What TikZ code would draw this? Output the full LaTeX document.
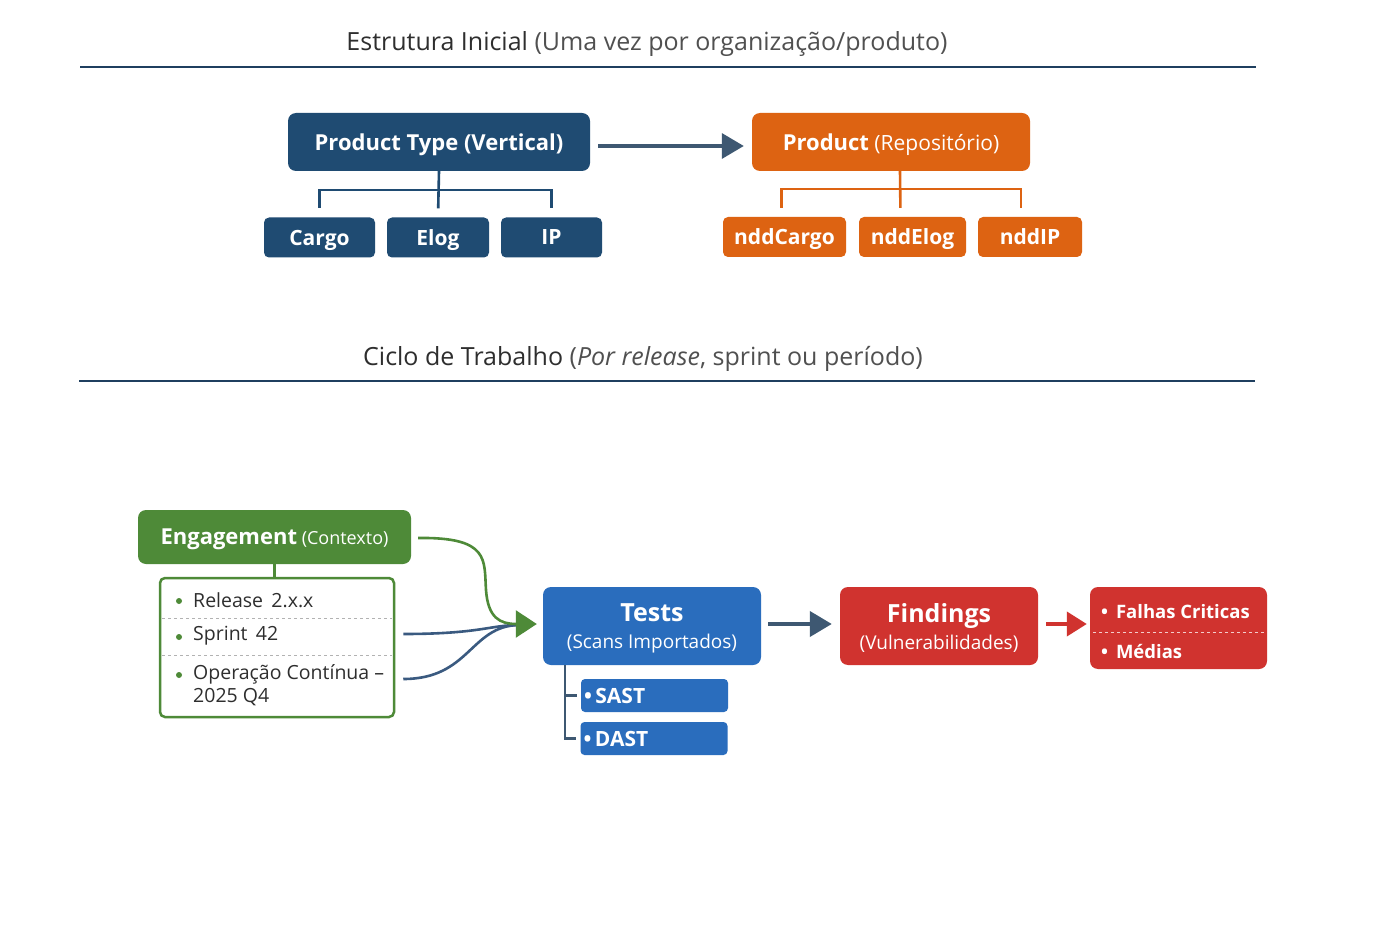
\documentclass[tikz,border=0pt]{standalone}
\usepackage{fontspec}
\setmainfont{Open Sans}
\usetikzlibrary{arrows.meta,positioning}

\definecolor{navy}{HTML}{1F4B72}
\definecolor{rust}{HTML}{DD6312}
\definecolor{leaf}{HTML}{4E8A38}
\definecolor{azure}{HTML}{2A6DBD}
\definecolor{brick}{HTML}{D0332F}
\definecolor{slate}{HTML}{3E5872}
\definecolor{rulecol}{HTML}{1F3F5F}
\definecolor{inkdark}{HTML}{2E2E2E}
\definecolor{inkgray}{HTML}{505050}
\definecolor{flowblue}{HTML}{3A5A80}

\newcommand{\fs}[2]{\fontsize{#1}{#2}\selectfont}

\begin{document}
\begin{tikzpicture}[x=1pt,y=-1pt,
  box/.style={rounded corners=8pt, text=white, inner sep=0pt, align=center},
  parentbox/.style={box, minimum height=58pt, text depth=0pt},
  childbox/.style={box, rounded corners=5pt, minimum height=40pt, text depth=0pt, font=\fs{21}{24}\bfseries},
  stagebox/.style={box, minimum height=78pt, text depth=0pt, font=\fs{19}{27}},
  subbox/.style={box, rounded corners=4pt, fill=azure, minimum height=33pt, text width=141pt, inner xsep=3pt, align=left, font=\fs{21}{24}\bfseries},
  title/.style={font=\fs{25}{28}, inner sep=0pt},
  rule/.style={rulecol, line width=1.6pt},
  bus/.style={line width=2.6pt, shorten >=9pt},
  bigarrow/.style={slate, line width=3.5pt, -{Triangle[length=22pt,width=25pt]}},
  item/.style={anchor=west, inner sep=0pt, font=\fs{19.5}{23}, text=inkdark, align=left},
  dot/.style={circle, fill=leaf, inner sep=0pt, minimum size=6pt},
  divider/.style={dashed, line width=0.8pt}]
\useasboundingbox[fill=white] (0,0) rectangle (1400,933);

\draw (647,44) node (t1) [title] {\textcolor{inkdark}{Estrutura Inicial} \textcolor{inkgray}{(Uma vez por organização/produto)}};
\draw[rule] (80,67) -- (1256,67);

\draw (439,142) node (ptype) [parentbox, fill=navy, minimum width=302pt, font=\fs{22}{26}\bfseries] {Product Type (Vertical)};
\draw (319.5,237.5) node (cargo) [childbox, fill=navy, minimum width=111pt] {Cargo};
\draw (438,237.5) node (elog) [childbox, fill=navy, minimum width=102pt] {Elog};
\draw (551.5,237.5) node (ip) [childbox, fill=navy, minimum width=101pt] {IP};
\draw[bus, navy] (ptype.south) -- ++(0,19) -| (cargo.north);
\draw[bus, navy] (ptype.south) -- (elog.north);
\draw[bus, navy] (ptype.south) -- ++(0,19) -| (ip.north);

\draw (891,142) node (prod) [parentbox, fill=rust, minimum width=278pt, font=\fs{21}{26}] {{\fs{22}{26}\bfseries Product} (Repositório)};
\draw[bigarrow, shorten <=8pt, shorten >=8pt] ([yshift=-4pt]ptype.east) -- ([yshift=-4pt]prod.west);
\draw (784.5,237) node (ndc) [childbox, fill=rust, minimum width=123pt] {nddCargo};
\draw (912.5,237) node (nde) [childbox, fill=rust, minimum width=107pt] {nddElog};
\draw (1030,237) node (ndi) [childbox, fill=rust, minimum width=104pt] {nddIP};
\draw[bus, rust] ([xshift=9pt]prod.south) -- ++(0,18) -| ([xshift=-3pt]ndc.north);
\draw[bus, rust] ([xshift=9pt]prod.south) -- ([xshift=-12pt]nde.north);
\draw[bus, rust] ([xshift=9pt]prod.south) -- ++(0,18) -| ([xshift=-9pt]ndi.north);

\draw (643,359) node (t2) [title] {\textcolor{inkdark}{Ciclo de Trabalho} \textcolor{inkgray}{(\textit{Por release}, sprint ou período)}};
\draw[rule] (79,381) -- (1255,381);

\draw (274.5,537) node (eng) [box, fill=leaf, minimum width=273pt, minimum height=54pt, text depth=0pt, font=\fs{18}{22}] {{\fs{22}{26}\bfseries Engagement} (Contexto)};
\draw (277,647.5) node (list) [draw=leaf, line width=2.5pt, rounded corners=5pt, fill=white, minimum width=234pt, minimum height=139pt] {};
\draw[leaf, line width=2.5pt] (eng.south) -- (eng.south |- list.north);
\draw[divider, gray!60] (162,618) -- (392,618);
\draw[divider, gray!60] (162,655) -- (392,655);
\draw (179,601) node (b1) [dot] {};
\draw (193,600) node (rel) [item] {Release\, 2.x.x};
\draw (179,637) node (b2) [dot] {};
\draw (193,636) node (spr) [item] {Sprint\, 42};
\draw (179,675) node (b3) [dot] {};
\draw (193,685) node (op) [item] {Operação Contínua –\\2025 Q4};

\draw (652,626) node (tests) [stagebox, fill=azure, minimum width=218pt] {{\fs{25}{27}\bfseries Tests}\\(Scans Importados)};
\coordinate (merge) at (519,625);
\draw[flowblue, line width=2.6pt] ([xshift=8pt]list.east |- 0,634) .. controls (480,634) and (490,625) .. (merge);
\draw[flowblue, line width=2.6pt] ([xshift=8pt,yshift=6pt]list.east |- op.west) .. controls (470,679) and (470,626) .. (merge);
\draw[leaf, line width=2.6pt, -{Triangle[length=21pt,width=27pt]}, shorten >=6pt] ([xshift=7pt,yshift=-1pt]eng.east) .. controls (490,537) and (484,560) .. (486,590) .. controls (488,618) and (500,624) .. ([yshift=2pt]tests.west);

\draw (654.5,695.5) node (sast) [subbox] {\textbullet\,SAST};
\draw (654,738.5) node (dast) [subbox] {\textbullet\,DAST};
\draw[slate, line width=2.6pt] ([xshift=-87pt]tests.south) |- ([xshift=-4pt]sast.west);
\draw[slate, line width=2.6pt] ([xshift=-87pt]tests.south) |- ([xshift=-4pt]dast.west);

\draw (939,626) node (find) [stagebox, fill=brick, minimum width=198pt] {{\fs{25}{27}\bfseries Findings}\\(Vulnerabilidades)};
\draw[bigarrow, line width=4pt, shorten <=7pt, shorten >=8pt] ([yshift=2pt]tests.east) -- ([yshift=2pt]find.west);

\draw (1178.5,628) node (sev) [box, fill=brick, minimum width=177pt, minimum height=82pt] {};
\draw[divider, white!75!brick] (1093,632) -- (1264,632);
\draw (1101,612) node (crit) [item, text=white, font=\fs{18.5}{22}\bfseries] {\textbullet\, Falhas Criticas};
\draw (1101,651) node (med) [item, text=white, font=\fs{18.5}{22}\bfseries] {\textbullet\, Médias};
\draw[brick, line width=4pt, -{Triangle[length=20pt,width=24pt]}, shorten <=8pt, shorten >=3pt] ([yshift=2pt]find.east) -- ([yshift=4pt]sev.west);
\end{tikzpicture}
\end{document}
